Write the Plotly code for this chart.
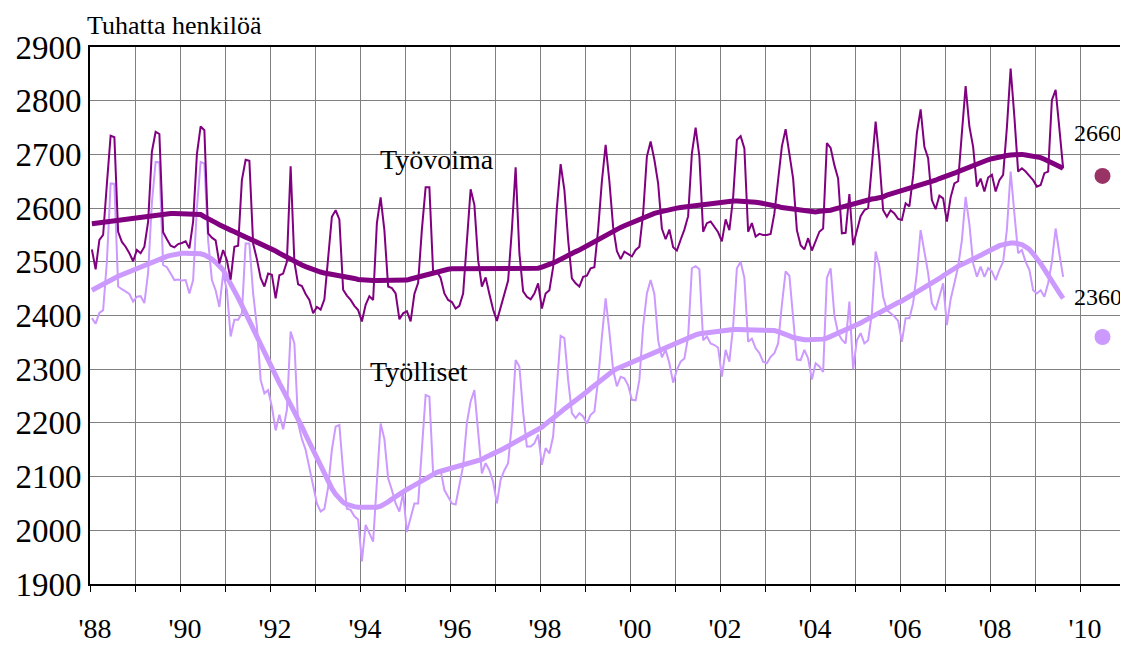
import plotly.graph_objects as go

# ---------------- data (thousand persons, monthly, Jan 1988 - Aug 2009) ----------------
tyovoima = [
    2523, 2486, 2541, 2550, 2645, 2735, 2732, 2556, 2537, 2528, 2516, 2501,  # 1988
    2522, 2516, 2528, 2575, 2705, 2742, 2738, 2555, 2542, 2530, 2527, 2533,  # 1989
    2535, 2538, 2525, 2575, 2700, 2752, 2745, 2553, 2545, 2540, 2497, 2522,  # 1990
    2503, 2467, 2528, 2530, 2652, 2690, 2688, 2534, 2505, 2470, 2454, 2478,  # 1991
    2476, 2432, 2475, 2478, 2500, 2678, 2500, 2458, 2455, 2440, 2429, 2404,  # 1992
    2416, 2411, 2430, 2500, 2584, 2596, 2579, 2448, 2437, 2429, 2418, 2410,  # 1993
    2389, 2420, 2436, 2429, 2572, 2620, 2559, 2454, 2451, 2441, 2393, 2404,  # 1994
    2408, 2389, 2440, 2461, 2560, 2639, 2639, 2480, 2482, 2470, 2441, 2429,  # 1995
    2425, 2413, 2418, 2441, 2540, 2635, 2606, 2503, 2454, 2471, 2440, 2411,  # 1996
    2390, 2415, 2435, 2465, 2560, 2676, 2516, 2445, 2435, 2430, 2441, 2460,  # 1997
    2413, 2441, 2447, 2490, 2600, 2682, 2634, 2541, 2469, 2460, 2454, 2472,  # 1998
    2474, 2488, 2490, 2560, 2650, 2718, 2650, 2565, 2520, 2505, 2519, 2515,  # 1999
    2510, 2522, 2528, 2590, 2696, 2724, 2690, 2646, 2562, 2542, 2560, 2527,  # 2000
    2521, 2541, 2560, 2585, 2702, 2750, 2696, 2556, 2572, 2575, 2566, 2555,  # 2001
    2538, 2579, 2559, 2620, 2727, 2734, 2711, 2556, 2572, 2547, 2552, 2550,  # 2002
    2550, 2552, 2590, 2655, 2715, 2747, 2696, 2655, 2559, 2531, 2523, 2544,  # 2003
    2521, 2540, 2556, 2562, 2721, 2712, 2680, 2655, 2553, 2554, 2626, 2531,  # 2004
    2560, 2585, 2596, 2600, 2680, 2761, 2690, 2596, 2584, 2596, 2590, 2580,  # 2005
    2578, 2609, 2603, 2660, 2740, 2784, 2714, 2693, 2615, 2598, 2623, 2618,  # 2006
    2575, 2620, 2646, 2650, 2740, 2827, 2752, 2714, 2640, 2655, 2631, 2657,  # 2007
    2662, 2631, 2652, 2662, 2750, 2860, 2770, 2668, 2674, 2668, 2660, 2652,  # 2008
    2640, 2643, 2665, 2668, 2801, 2820, 2748, 2674,                          # 2009
]

tyovoima_trend = [
    2571, 2572, 2572, 2573, 2574, 2575, 2577, 2578, 2579, 2580, 2581, 2582,
    2583, 2584, 2585, 2586, 2587, 2588, 2589, 2590, 2590, 2590, 2590, 2590,
    2590, 2590, 2590, 2590, 2589, 2588, 2584, 2581, 2577, 2573, 2569, 2565,
    2562, 2559, 2556, 2552, 2549, 2546, 2543, 2540, 2536, 2533, 2530, 2527,
    2524, 2520, 2516, 2512, 2508, 2504, 2500, 2497, 2494, 2491, 2488, 2485,
    2482, 2481, 2479, 2478, 2476, 2475, 2474, 2473, 2471, 2470, 2469, 2467,
    2466, 2466, 2465, 2465, 2465, 2465, 2465, 2465, 2465, 2465, 2465, 2466,
    2466, 2468, 2470, 2472, 2474, 2476, 2478, 2479, 2481, 2483, 2484, 2486,
    2487, 2487, 2487, 2488, 2488, 2488, 2487, 2487, 2487, 2487, 2487, 2486,
    2486, 2486, 2486, 2486, 2486, 2486, 2486, 2486, 2486, 2486, 2487, 2488,
    2490, 2492, 2495, 2498, 2501, 2505, 2509, 2512, 2515, 2519, 2522, 2526,
    2530, 2534, 2538, 2542, 2546, 2550, 2554, 2557, 2560, 2564, 2567, 2570,
    2574, 2577, 2580, 2583, 2586, 2588, 2590, 2592, 2594, 2596, 2597, 2599,
    2600, 2601, 2602, 2603, 2604, 2605, 2605, 2606, 2607, 2608, 2609, 2610,
    2611, 2612, 2612, 2613, 2613, 2613, 2613, 2613, 2612, 2611, 2610, 2609,
    2608, 2606, 2605, 2603, 2601, 2600, 2598, 2597, 2596, 2595, 2594, 2593,
    2593, 2593, 2594, 2594, 2595, 2596, 2598, 2600, 2602, 2605, 2607, 2609,
    2611, 2612, 2614, 2615, 2617, 2618, 2619, 2621, 2624, 2626, 2629, 2631,
    2633, 2635, 2637, 2639, 2641, 2643, 2645, 2647, 2650, 2652, 2655, 2657,
    2659, 2662, 2665, 2668, 2671, 2674, 2676, 2679, 2682, 2685, 2688, 2690,
    2692, 2694, 2695, 2697, 2698, 2699, 2700, 2700, 2700, 2699, 2698, 2697,
    2696, 2694, 2691, 2688, 2685, 2682, 2678, 2674,
]

tyolliset = [
    2395, 2385, 2405, 2410, 2500, 2646, 2645, 2454, 2449, 2444, 2440, 2426,  # 1988
    2435, 2436, 2423, 2480, 2610, 2686, 2685, 2494, 2490, 2478, 2466, 2467,  # 1989
    2465, 2466, 2441, 2466, 2600, 2686, 2683, 2540, 2466, 2447, 2416, 2478,  # 1990
    2447, 2361, 2392, 2392, 2404, 2534, 2534, 2441, 2380, 2280, 2255, 2261,  # 1991
    2230, 2186, 2215, 2188, 2224, 2370, 2348, 2199, 2170, 2150, 2115, 2085,  # 1992
    2050, 2035, 2040, 2080, 2150, 2193, 2196, 2110, 2040, 2038, 2026, 2020,  # 1993
    1942, 2010, 1995, 1979, 2090, 2199, 2170, 2097, 2075, 2050, 2035, 2069,  # 1994
    1997, 2025, 2050, 2050, 2150, 2252, 2249, 2106, 2110, 2112, 2075, 2063,  # 1995
    2050, 2048, 2081, 2120, 2200, 2240, 2261, 2180, 2106, 2125, 2112, 2090,  # 1996
    2050, 2094, 2112, 2125, 2200, 2317, 2305, 2220, 2156, 2156, 2162, 2178,  # 1997
    2122, 2153, 2143, 2175, 2260, 2362, 2358, 2280, 2218, 2209, 2218, 2212,  # 1998
    2199, 2215, 2221, 2280, 2360, 2432, 2370, 2299, 2268, 2286, 2283, 2270,  # 1999
    2243, 2242, 2280, 2380, 2441, 2466, 2440, 2354, 2322, 2336, 2311, 2275,  # 2000
    2299, 2314, 2320, 2360, 2488, 2492, 2486, 2354, 2361, 2348, 2345, 2340,  # 2001
    2286, 2336, 2314, 2380, 2488, 2500, 2470, 2351, 2357, 2339, 2330, 2314,  # 2002
    2311, 2323, 2330, 2348, 2420, 2482, 2474, 2400, 2318, 2317, 2336, 2320,  # 2003
    2281, 2311, 2305, 2295, 2470, 2488, 2400, 2367, 2355, 2348, 2426, 2300,  # 2004
    2354, 2367, 2348, 2354, 2404, 2519, 2491, 2435, 2410, 2404, 2398, 2390,  # 2005
    2351, 2395, 2395, 2423, 2480, 2559, 2516, 2479, 2423, 2410, 2435, 2460,  # 2006
    2382, 2430, 2460, 2491, 2540, 2621, 2570, 2497, 2472, 2491, 2472, 2488,  # 2007
    2482, 2466, 2485, 2500, 2560, 2668, 2590, 2516, 2522, 2500, 2485, 2447,  # 2008
    2441, 2447, 2435, 2460, 2500, 2562, 2515, 2472,                          # 2009
]

tyolliset_trend = [
    2447, 2451, 2455, 2459, 2463, 2466, 2470, 2473, 2476, 2479, 2482, 2485,
    2488, 2491, 2494, 2497, 2500, 2503, 2506, 2508, 2510, 2512, 2514, 2515,
    2516, 2516, 2516, 2516, 2516, 2515, 2513, 2510, 2505, 2499, 2492, 2485,
    2472, 2460, 2447, 2433, 2419, 2404, 2389, 2374, 2359, 2344, 2329, 2314,
    2300, 2287, 2274, 2261, 2248, 2236, 2223, 2208, 2193, 2178, 2163, 2148,
    2134, 2119, 2104, 2089, 2078, 2067, 2058, 2052, 2048, 2045, 2044, 2043,
    2043, 2042, 2042, 2042, 2043, 2045, 2048, 2053, 2058, 2063, 2068, 2072,
    2076, 2080, 2084, 2088, 2092, 2097, 2102, 2106, 2108, 2110, 2112, 2114,
    2116, 2117, 2118, 2120, 2122, 2124, 2126, 2128, 2132, 2136, 2140, 2143,
    2146, 2149, 2153, 2156, 2160, 2163, 2167, 2171, 2176, 2180, 2184, 2188,
    2192, 2198, 2203, 2209, 2214, 2220, 2226, 2231, 2237, 2242, 2247, 2253,
    2258, 2264, 2270, 2276, 2282, 2288, 2293, 2297, 2301, 2304, 2307, 2310,
    2313, 2316, 2320, 2323, 2326, 2330, 2333, 2336, 2339, 2342, 2345, 2348,
    2351, 2354, 2356, 2359, 2361, 2364, 2366, 2367, 2369, 2370, 2371, 2372,
    2373, 2373, 2374, 2374, 2374, 2374, 2374, 2374, 2374, 2374, 2374, 2374,
    2374, 2373, 2372, 2370, 2368, 2365, 2362, 2359, 2357, 2356, 2355, 2355,
    2355, 2355, 2355, 2356, 2358, 2361, 2364, 2367, 2370, 2372, 2375, 2378,
    2382, 2386, 2390, 2394, 2397, 2401, 2404, 2408, 2412, 2416, 2420, 2424,
    2427, 2431, 2435, 2439, 2443, 2447, 2451, 2455, 2459, 2464, 2469, 2474,
    2479, 2484, 2488, 2492, 2495, 2498, 2501, 2505, 2508, 2512, 2516, 2520,
    2524, 2527, 2530, 2532, 2534, 2535, 2535, 2534, 2532, 2528, 2523, 2515,
    2507, 2497, 2486, 2474, 2463, 2452, 2442, 2432,
]

forecast_x = 2010.5
forecast_tyovoima = 2660
forecast_tyolliset = 2360

year_ticks = list(range(1988, 2011))
year_labels = ["'" + str(y)[2:] if y % 2 == 0 else "" for y in year_ticks]
y_ticks = list(range(1900, 3000, 100))

# monthly positions (mid-month)
n = len(tyovoima)
xs = [1988 + (k + 0.5) / 12 for k in range(n)]

DARK = "#800080"
LIGHT = "#CC99FF"
FONT = "Liberation Serif"

fig = go.Figure()
fig.add_trace(go.Scatter(x=xs, y=tyolliset, mode="lines",
                         line=dict(color=LIGHT, width=2), name="Työlliset"))
fig.add_trace(go.Scatter(x=xs, y=tyolliset_trend, mode="lines",
                         line=dict(color=LIGHT, width=5), name="Työlliset, trendi"))
fig.add_trace(go.Scatter(x=xs, y=tyovoima, mode="lines",
                         line=dict(color=DARK, width=2), name="Työvoima"))
fig.add_trace(go.Scatter(x=xs, y=tyovoima_trend, mode="lines",
                         line=dict(color=DARK, width=5), name="Työvoima, trendi"))
fig.add_trace(go.Scatter(x=[forecast_x], y=[forecast_tyovoima], mode="markers",
                         marker=dict(color="#993366", size=16), name="2660"))
fig.add_trace(go.Scatter(x=[forecast_x], y=[forecast_tyolliset], mode="markers",
                         marker=dict(color=LIGHT, size=16), name="2360"))

annotations = [
    dict(text="Tuhatta henkilöä", x=0, xref="paper", xanchor="left", xshift=-5,
         y=2900, yref="y", yanchor="bottom", yshift=5, showarrow=False,
         font=dict(family=FONT, size=26, color="black")),
    dict(text="Työvoima", x=1995.7, y=2690, showarrow=False,
         font=dict(family=FONT, size=28, color="black")),
    dict(text="Työlliset", x=1995.3, y=2295, showarrow=False,
         font=dict(family=FONT, size=28, color="black")),
    dict(text=str(forecast_tyovoima), x=forecast_x, xshift=-5, y=2740, showarrow=False,
         font=dict(family=FONT, size=24, color="black")),
    dict(text=str(forecast_tyolliset), x=forecast_x, xshift=-5, y=2435, showarrow=False,
         font=dict(family=FONT, size=24, color="black")),
]

# page body has an 8px default margin, so the figure is sized to fit the window
fig.update_layout(
    width=1120, height=638,
    margin=dict(l=82, r=3, t=39, b=62),
    paper_bgcolor="white", plot_bgcolor="white",
    showlegend=False,
    annotations=annotations,
    font=dict(family=FONT, size=26, color="black"),
)
fig.update_xaxes(
    range=[1988, 2011], tickmode="array", tickvals=year_ticks, ticktext=year_labels,
    showgrid=True, gridcolor="#808080", gridwidth=1,
    showline=True, linecolor="black", linewidth=2, mirror=True,
    ticks="outside", ticklen=6, tickcolor="black", tickwidth=1,
    ticklabelstandoff=12, ticklabelshift=5, automargin=False,
    tickfont=dict(family=FONT, size=28), zeroline=False,
)
fig.update_yaxes(
    range=[1900, 2900], tickmode="array", tickvals=y_ticks,
    showgrid=True, gridcolor="#808080", gridwidth=1,
    showline=True, linecolor="black", linewidth=2, mirror=True,
    ticks="", ticklabelstandoff=0, automargin=False,
    tickfont=dict(family=FONT, size=33), zeroline=False,
)

fig.write_html("out.html")
